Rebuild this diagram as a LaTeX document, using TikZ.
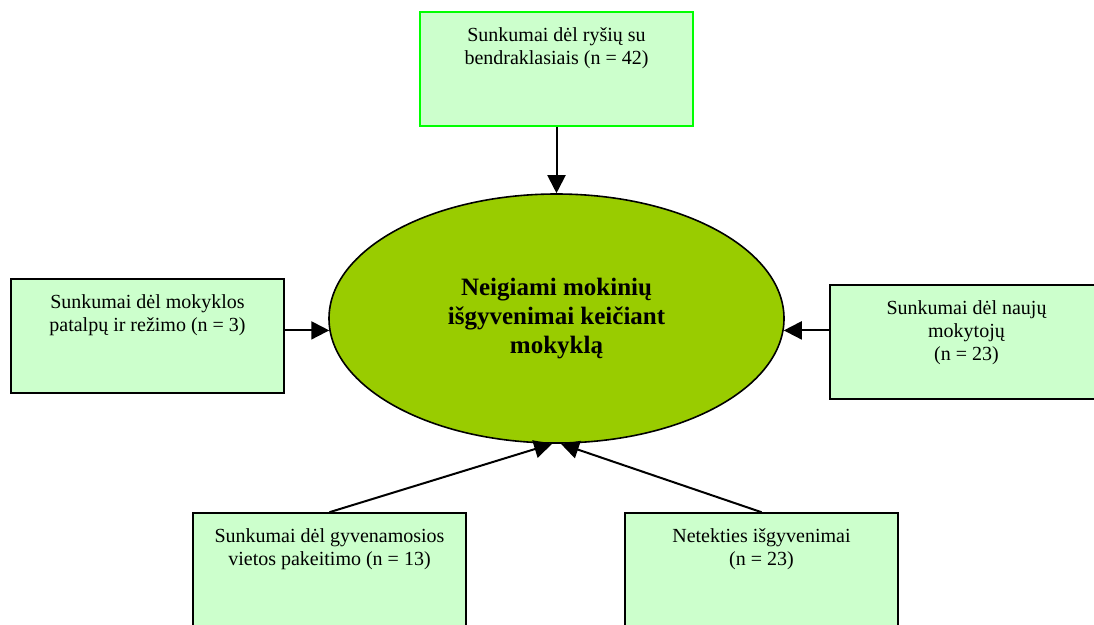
\documentclass[tikz,border=0pt]{standalone}
\usepackage{fontspec}
\setmainfont{Liberation Serif}
\usetikzlibrary{shapes.geometric,arrows.meta}
\definecolor{sviesi}{HTML}{CCFFCC}
\definecolor{salotine}{HTML}{99CC00}
\definecolor{ryski}{HTML}{00FF00}

\begin{document}
\begin{tikzpicture}[x=1pt,y=-1pt,
	langelis/.style={draw=black,line width=1.6pt,fill=sviesi,minimum width=273pt,inner sep=0pt,align=center,font=\fontsize{20}{23}\selectfont,text height=52.6pt,text depth=61.4pt},
	trys/.style={text height=75.6pt,text depth=38.4pt},
	rodykle/.style={line width=2pt,-{Triangle[length=18pt,width=18pt]}}]
		
		\useasboundingbox (0,0) rectangle (1094,624);
		\clip (0,0) rectangle (1094,624);
		
		\node[ellipse,draw=black,line width=1.6pt,fill=salotine,minimum width=455pt,minimum height=249pt,inner sep=0pt,align=center,font=\fontsize{25}{29}\selectfont\bfseries] (vidus) at (556.5,318.5) {Neigiami mokinių\\išgyvenimai keičiant\\mokyklą};
		
		\node[langelis,draw=ryski] (santykiai) at (556.5,69) {Sunkumai dėl ryšių su\\bendraklasiais (n = 42)};
		\node[langelis] (patalpos) at (147.5,336) {Sunkumai dėl mokyklos\\patalpų ir režimo (n = 3)};
		\node[langelis,trys] (mokytojai) at (966.5,342) {Sunkumai dėl naujų\\mokytojų\\(n = 23)};
		\node[langelis] (gyvenamoji) at (329.5,570) {Sunkumai dėl gyvenamosios\\vietos pakeitimo (n = 13)};
		\node[langelis] (netektis) at (761.5,570) {Netekties išgyvenimai\\(n = 23)};
		
		\draw[rodykle] (santykiai) -- (vidus);
		\draw[rodykle] (patalpos.east |- vidus.183) -- (vidus.183);
		\draw[rodykle] (mokytojai.west |- vidus.357) -- (vidus.357);
		\draw[rodykle] (gyvenamoji.north) -- (vidus.268);
		\draw[rodykle] (netektis.north) -- (vidus.272);
		
\end{tikzpicture}
\end{document}
